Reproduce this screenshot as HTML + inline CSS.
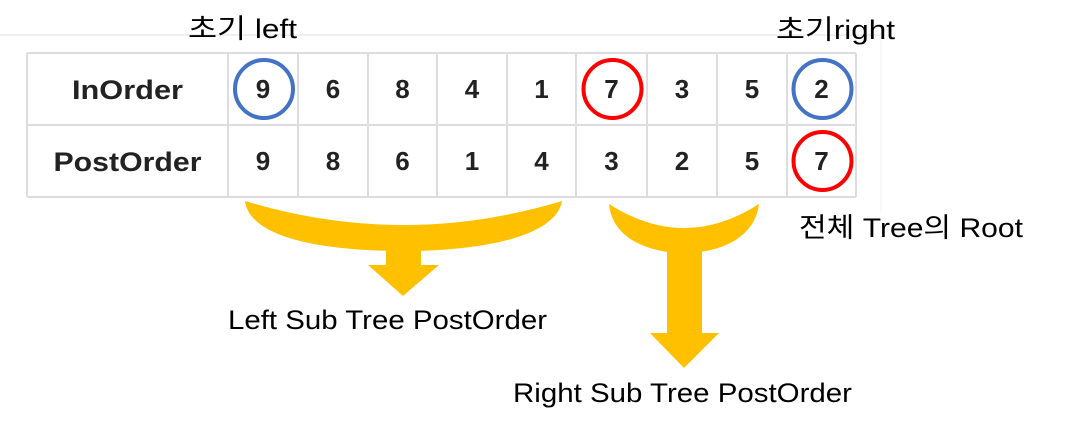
<!DOCTYPE html>
<html><head><meta charset="utf-8"><style>
html,body{margin:0;padding:0;background:#fff;}
svg{display:block;}
text{font-family:"Liberation Sans","Noto Sans CJK KR",sans-serif;}
</style></head><body>
<svg id="d" width="1080" height="429" viewBox="0 0 1080 429">
<line x1="0" y1="35" x2="881" y2="35" stroke="#ececec" stroke-width="1.5"/>
<line x1="881" y1="35" x2="881" y2="212" stroke="#f2f2f2" stroke-width="1"/>
<g id="tbl"></g>
<g fill="#FFC000">
<path d="M245,201 Q403,249 562,201 C555,240 470,251 403,251 C330,251 250,240 245,201 Z"/>
<rect x="386" y="249" width="35" height="17"/>
<polygon points="368,265 439,265 403,296"/>
</g>
<g fill="#FFC000">
<path d="M609,204 Q684,252 759,204 C755,238 720,253 684,253 C648,253 612,238 609,204 Z"/>
<rect x="667" y="251" width="35" height="83"/>
<polygon points="650,333 719,333 684,368"/>
</g>
<text x="188" y="38" font-size="27" textLength="109" lengthAdjust="spacingAndGlyphs">초기 left</text>
<text x="776" y="39" font-size="27" textLength="119" lengthAdjust="spacingAndGlyphs">초기right</text>
<text x="799" y="237" font-size="27" textLength="224" lengthAdjust="spacingAndGlyphs">전체 Tree의 Root</text>
<text x="228" y="329" font-size="27" textLength="319" lengthAdjust="spacingAndGlyphs">Left Sub Tree PostOrder</text>
<text x="513" y="402" font-size="27" textLength="339" lengthAdjust="spacingAndGlyphs">Right Sub Tree PostOrder</text>
</svg>
<script>
const rowLabels=["InOrder","PostOrder"];
const inorder=[9,6,8,4,1,7,3,5,2];
const postorder=[9,8,6,1,4,3,2,5,7];
const blueCircles=[[0,0],[0,8]];
const redCircles=[[0,5],[1,8]];
const NS="http://www.w3.org/2000/svg";
const g=document.getElementById('tbl');
const colX=[27,228,298,368,437,507,576,647,717,787,856];
const rowY=[53,125,197];
const labelW=[111,148];
function mk(t,a){const e=document.createElementNS(NS,t);for(const k in a)e.setAttribute(k,a[k]);g.appendChild(e);return e;}
const rows=[inorder,postorder];
for(let r=0;r<2;r++){
  const cy=(rowY[r]+rowY[r+1])/2;
  const lab=mk('text',{x:(colX[0]+colX[1])/2,y:cy+10,'font-size':27,'font-weight':'bold','text-anchor':'middle',fill:'#222',textLength:labelW[r],lengthAdjust:'spacingAndGlyphs'});
  lab.textContent=rowLabels[r];
  
  
  for(let c=0;c<rows[r].length;c++){
    const cx=(colX[c+1]+colX[c+2])/2;
    const t=mk('text',{x:cx,y:cy+9,'font-size':26,'font-weight':'bold','text-anchor':'middle',fill:'#222'});
    t.textContent=rows[r][c];
    
    
  }
}
for(const x of colX){const l=mk('line',{x1:x,y1:rowY[0],x2:x,y2:rowY[2],stroke:'#dcdce2','stroke-width':2});
  
  }
for(const y of rowY){const l=mk('line',{x1:colX[0],y1:y,x2:colX[10],y2:y,stroke:'#dcdce2','stroke-width':2});
  
  }
function circ(list,color,name){for(const [r,c] of list){
  const e=mk('circle',{cx:(colX[c+1]+colX[c+2])/2+1,cy:(rowY[r]+rowY[r+1])/2,r:29,fill:'none',stroke:color,'stroke-width':4});
  
  }}
circ(blueCircles,'#4472C4','blue-highlight-circle');
circ(redCircles,'#FF0000','red-highlight-circle');
</script>
</body></html>
